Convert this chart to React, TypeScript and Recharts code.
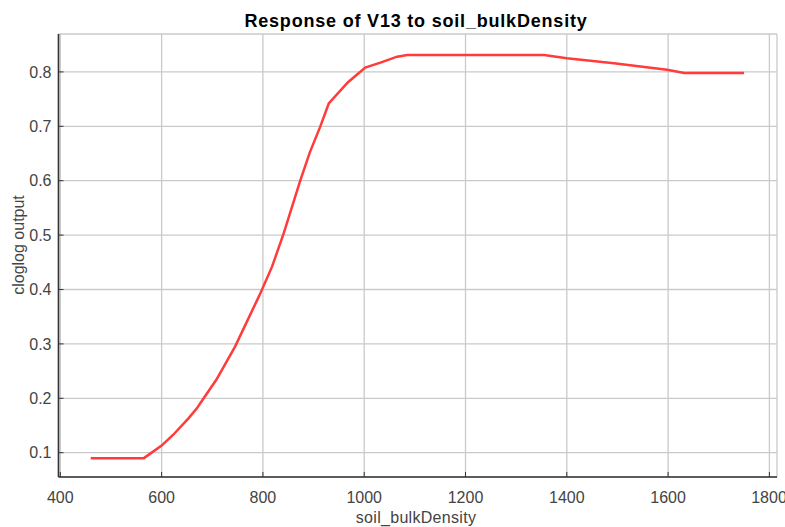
import { LineChart, Line, XAxis, YAxis, CartesianGrid } from "recharts";

const densities = [
  460, 565, 600, 623, 653, 670, 680, 708, 745, 795, 818, 841, 874, 893, 913,
  930, 968, 1002, 1032, 1065, 1085, 1355, 1400, 1493, 1598, 1632, 1750,
];
const outputs = [
  0.09, 0.09, 0.113, 0.133, 0.163, 0.182, 0.196, 0.234, 0.295, 0.393, 0.442,
  0.503, 0.601, 0.653, 0.699, 0.742, 0.781, 0.808, 0.817, 0.828, 0.831, 0.831,
  0.825, 0.816, 0.804, 0.798, 0.798,
];
const xTicks = [400, 600, 800, 1000, 1200, 1400, 1600, 1800];
const yTicks = [0.1, 0.2, 0.3, 0.4, 0.5, 0.6, 0.7, 0.8];

const data = densities.map((d, i) => ({ x: d, y: outputs[i] }));

const FONT = '"Liberation Sans", Arial, sans-serif';
const tickStyle = { fontSize: 16, fill: "#444", fontFamily: FONT };
const frame = { stroke: "#333", strokeWidth: 1.6 };

export default function App() {
  return (
    <div style={{ position: "absolute", left: 0, top: 0 }}>
      <LineChart
        width={785}
        height={527}
        data={data}
        margin={{ top: 34, right: 8, bottom: 0, left: 0 }}
      >
        <CartesianGrid stroke="#cacaca" strokeWidth={1.3} />
        <XAxis
          dataKey="x"
          type="number"
          domain={[396.4, 1815]}
          ticks={xTicks}
          allowDataOverflow
          height={50}
          tickSize={-5}
          tickMargin={20}
          axisLine={frame}
          tickLine={{ stroke: "#333" }}
          tick={tickStyle}
        />
        <XAxis
          xAxisId="top"
          orientation="top"
          type="number"
          domain={[396.4, 1815]}
          ticks={xTicks}
          allowDataOverflow
          height={0}
          tickSize={-5}
          tick={false}
          axisLine={frame}
          tickLine={{ stroke: "#333" }}
        />
        <YAxis
          type="number"
          domain={[0.0553, 0.8697]}
          ticks={yTicks}
          allowDataOverflow
          width={58.5}
          tickSize={-5}
          tickMargin={12}
          axisLine={frame}
          tickLine={{ stroke: "#333" }}
          tick={tickStyle}
        />
        <YAxis
          yAxisId="right"
          orientation="right"
          type="number"
          domain={[0.0553, 0.8697]}
          ticks={yTicks}
          allowDataOverflow
          width={0}
          tickSize={-5}
          tick={false}
          axisLine={frame}
          tickLine={{ stroke: "#333" }}
        />
        <Line
          dataKey="y"
          type="linear"
          stroke="#ff3b3b"
          strokeWidth={2.5}
          dot={false}
          activeDot={false}
          isAnimationActive={false}
        />
        <text
          x={416}
          y={27}
          textAnchor="middle"
          fontFamily={FONT}
          fontSize={18}
          fontWeight="bold"
          letterSpacing={0.8}
          fill="#000"
        >
          Response of V13 to soil_bulkDensity
        </text>
        <text
          x={416}
          y={523}
          textAnchor="middle"
          fontFamily={FONT}
          fontSize={16}
          letterSpacing={0.3}
          fill="#444"
        >
          soil_bulkDensity
        </text>
        <text
          x={24}
          y={245}
          transform="rotate(-90 24 245)"
          textAnchor="middle"
          fontFamily={FONT}
          fontSize={16}
          fill="#444"
        >
          cloglog output
        </text>
      </LineChart>
    </div>
  );
}
